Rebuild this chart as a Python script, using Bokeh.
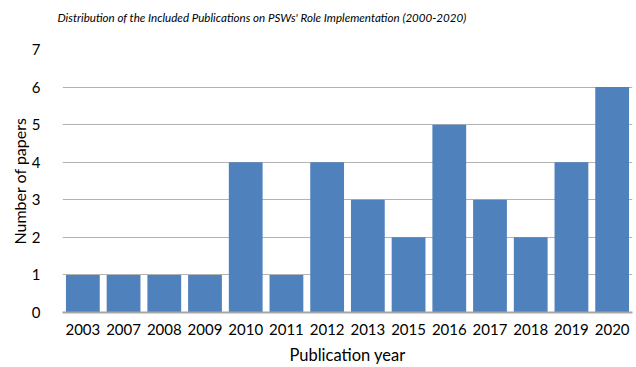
from bokeh.plotting import figure
from bokeh.models import FixedTicker, Title
from bokeh.embed import file_html
from bokeh.resources import INLINE

years = ["2003", "2007", "2008", "2009", "2010", "2011", "2012", "2013",
         "2015", "2016", "2017", "2018", "2019", "2020"]
papers = [1, 1, 1, 1, 4, 1, 4, 3, 2, 5, 3, 2, 4, 6]
y_ticks = [0, 1, 2, 3, 4, 5, 6, 7]
title_text = "Distribution of the Included Publications on PSWs' Role Implementation (2000-2020)"

FONT = "Lato"
GRID = "#b3b3b3"

p = figure(x_range=years, y_range=(0, 7), width=636, height=367,
           output_backend="svg", toolbar_location=None,
           min_border_left=62, min_border_right=4, min_border_top=0,
           min_border_bottom=55)
p.outline_line_color = None
p.background_fill_color = "white"
p.border_fill_color = "white"

# real title (outermost, at the top)
p.title.text = title_text
p.title.align = "left"
p.title.offset = -5
p.title.standoff = 17
p.title.text_font = FONT
p.title.text_font_size = "11.6px"
p.title.text_font_style = "italic"
p.title.text_color = "#000000"

# spacer title between the real title and the frame
spacer = Title(text=" ", standoff=2, text_font=FONT, text_font_size="11.6px")
p.add_layout(spacer, "above")

p.vbar(x=years, top=papers, width=0.83, color="#4F81BD", line_color=None)

p.x_range.range_padding = 0
p.xgrid.grid_line_color = None
p.ygrid.grid_line_color = GRID
p.ygrid.grid_line_width = 1

p.yaxis.ticker = FixedTicker(ticks=y_ticks)
p.yaxis.axis_line_color = None
p.yaxis.major_tick_line_color = None
p.yaxis.minor_tick_line_color = None
p.yaxis.major_label_standoff = 16
p.yaxis.axis_label = "Number of papers"
p.yaxis.axis_label_standoff = 0
p.yaxis.axis_label_text_font = FONT
p.yaxis.axis_label_text_font_size = "16px"
p.yaxis.axis_label_text_font_style = "normal"
p.yaxis.axis_label_text_color = "#000000"
p.yaxis.major_label_text_font = FONT
p.yaxis.major_label_text_font_size = "15px"
p.yaxis.major_label_text_color = "#000000"

p.xaxis.axis_line_color = "#a6a6a6"
p.xaxis.axis_line_width = 2
p.xaxis.major_tick_line_color = None
p.xaxis.minor_tick_line_color = None
p.xaxis.major_label_standoff = 5
p.xaxis.axis_label = "Publication year"
p.xaxis.axis_label_standoff = 7
p.xaxis.axis_label_text_font = FONT
p.xaxis.axis_label_text_font_size = "16.5px"
p.xaxis.axis_label_text_font_style = "normal"
p.xaxis.axis_label_text_color = "#000000"
p.xaxis.major_label_text_font = FONT
p.xaxis.major_label_text_font_size = "15px"
p.xaxis.major_label_text_color = "#000000"

open("out.html", "w").write(file_html(p, INLINE))
